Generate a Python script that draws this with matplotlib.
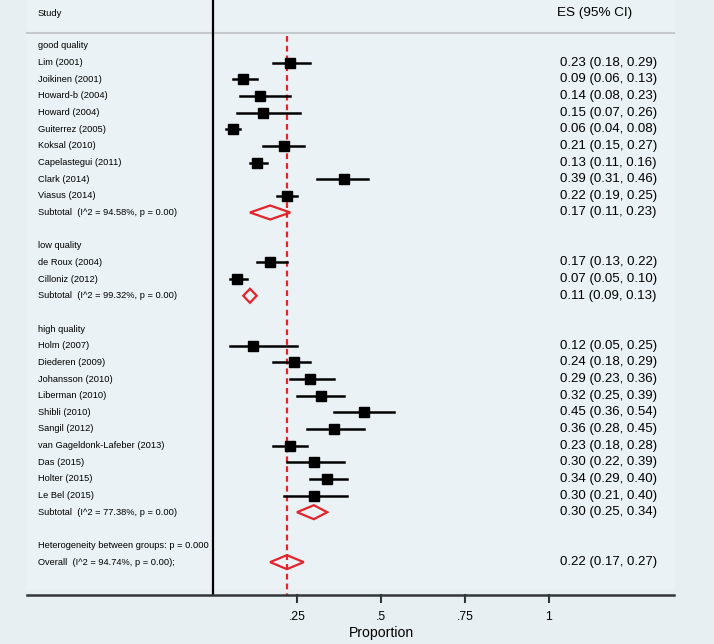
import numpy as np
import matplotlib
matplotlib.use('Agg')
import matplotlib.pyplot as plt
from matplotlib.patches import Polygon, Rectangle

plt.rcParams['font.family'] = ['Liberation Sans', 'DejaVu Sans']

# 그룹별 데이터 (ES, 95% CI)
good_names = ['Lim (2001)', 'Joikinen (2001)', 'Howard-b (2004)', 'Howard (2004)',
              'Guiterrez (2005)', 'Koksal (2010)', 'Capelastegui (2011)', 'Clark (2014)',
              'Viasus (2014)']
good_es = [0.23, 0.09, 0.14, 0.15, 0.06, 0.21, 0.13, 0.39, 0.22]
good_lo = [0.18, 0.06, 0.08, 0.07, 0.04, 0.15, 0.11, 0.31, 0.19]
good_hi = [0.29, 0.13, 0.23, 0.26, 0.08, 0.27, 0.16, 0.46, 0.25]
good_sub = [0.17, 0.11, 0.23]
good_i2 = 'Subtotal  (I^2 = 94.58%, p = 0.00)'

low_names = ['de Roux (2004)', 'Cilloniz (2012)']
low_es = [0.17, 0.07]
low_lo = [0.13, 0.05]
low_hi = [0.22, 0.10]
low_sub = [0.11, 0.09, 0.13]
low_i2 = 'Subtotal  (I^2 = 99.32%, p = 0.00)'

high_names = ['Holm (2007)', 'Diederen (2009)', 'Johansson (2010)', 'Liberman (2010)',
              'Shibli (2010)', 'Sangil (2012)', 'van Gageldonk-Lafeber (2013)', 'Das (2015)',
              'Holter (2015)', 'Le Bel (2015)']
high_es = [0.12, 0.24, 0.29, 0.32, 0.45, 0.36, 0.23, 0.30, 0.34, 0.30]
high_lo = [0.05, 0.18, 0.23, 0.25, 0.36, 0.28, 0.18, 0.22, 0.29, 0.21]
high_hi = [0.25, 0.29, 0.36, 0.39, 0.54, 0.45, 0.28, 0.39, 0.40, 0.40]
high_sub = [0.30, 0.25, 0.34]
high_i2 = 'Subtotal  (I^2 = 77.38%, p = 0.00)'

overall = [0.22, 0.17, 0.27]
overall_label = 'Overall  (I^2 = 94.74%, p = 0.00);'
het_label = 'Heterogeneity between groups: p = 0.000'

xticks = [0.25, 0.5, 0.75, 1]
xtick_labels = ['.25', '.5', '.75', '1']

groups = [('good quality', good_names, good_es, good_lo, good_hi, good_sub, good_i2),
          ('low quality', low_names, low_es, low_lo, low_hi, low_sub, low_i2),
          ('high quality', high_names, high_es, high_lo, high_hi, high_sub, high_i2)]

fig = plt.figure(figsize=(7.14, 6.44), dpi=100)
fig.patch.set_facecolor('#e7eff2')
ax = fig.add_axes([0, 0, 1, 1])
ax.set_xlim(-213 / 336, (714 - 213) / 336)
ax.set_ylim((644 - 46) / 16.65, -46 / 16.65)
ax.axis('off')

# 안쪽 배경
ax.add_patch(Rectangle(((27 - 213) / 336, -3), (675 - 27) / 336, 35.6,
                       facecolor='#eaf2f5', edgecolor='none', zorder=0))

lab_x = (38 - 213) / 336
val_x = (560 - 213) / 336
lab_fs = 6.7
val_fs = 9.5


def fmt(e, l, h):
    return '%.2f (%.2f, %.2f)' % (e, l, h)


def diamond(e, l, h, y):
    d = Polygon([[l, y], [e, y - 0.42], [h, y], [e, y + 0.42]], closed=True,
                facecolor='none', edgecolor='#e3242b', linewidth=1.6, zorder=4)
    ax.add_patch(d)


row = 0
for title, names, es, lo, hi, sub, i2 in groups:
    ax.text(lab_x, row, title, fontsize=lab_fs, va='center', ha='left')
    row += 1
    for n, e, l, h in zip(names, es, lo, hi):
        ax.plot([l, h], [row, row], color='black', linewidth=1.8, zorder=3)
        ax.plot(e, row, marker='s', markersize=7.6, color='black', zorder=3)
        ax.text(lab_x, row, n, fontsize=lab_fs, va='center', ha='left')
        ax.text(val_x, row, fmt(e, l, h), fontsize=val_fs, va='center', ha='left')
        row += 1
    diamond(sub[0], sub[1], sub[2], row)
    ax.text(lab_x, row, i2, fontsize=lab_fs, va='center', ha='left')
    ax.text(val_x, row, fmt(*sub), fontsize=val_fs, va='center', ha='left')
    row += 2

ax.text(lab_x, row, het_label, fontsize=lab_fs, va='center', ha='left')
row += 1
diamond(overall[0], overall[1], overall[2], row)
ax.text(lab_x, row, overall_label, fontsize=lab_fs, va='center', ha='left')
ax.text(val_x, row, fmt(*overall), fontsize=val_fs, va='center', ha='left')

# 헤더
y_axis = (595 - 46) / 16.65
y_head = (33 - 46) / 16.65
ax.text(lab_x, (13 - 46) / 16.65, 'Study', fontsize=6.8, va='center', ha='left')
ax.text((557 - 213) / 336, (13 - 46) / 16.65, 'ES (95% CI)', fontsize=9.7,
        va='center', ha='left')
ax.plot([(27 - 213) / 336, (674 - 213) / 336], [y_head, y_head],
        color='#c6c9cb', linewidth=1.5, zorder=1)

# 세로선, 전체 효과선
ax.plot([0, 0], [-46 / 16.65, y_axis], color='black', linewidth=1.6, zorder=5)
ax.plot([overall[0], overall[0]], [y_head + 0.2, y_axis], color='#e3242b',
        linewidth=1.6, dashes=(2.6, 1.8), zorder=2)

# x축
ax.plot([(27 - 213) / 336, (674 - 213) / 336], [y_axis, y_axis],
        color='#333638', linewidth=1.8, zorder=5)
for t, tl in zip(xticks, xtick_labels):
    ax.plot([t, t], [y_axis, y_axis + 0.45], color='#333638', linewidth=1.5)
    ax.text(t, (617 - 46) / 16.65, tl, fontsize=8.8, ha='center', va='center')
ax.text(0.5, (633 - 46) / 16.65, 'Proportion', fontsize=10.1, ha='center', va='center')

fig.savefig('out.png', dpi=100, facecolor=fig.get_facecolor())
